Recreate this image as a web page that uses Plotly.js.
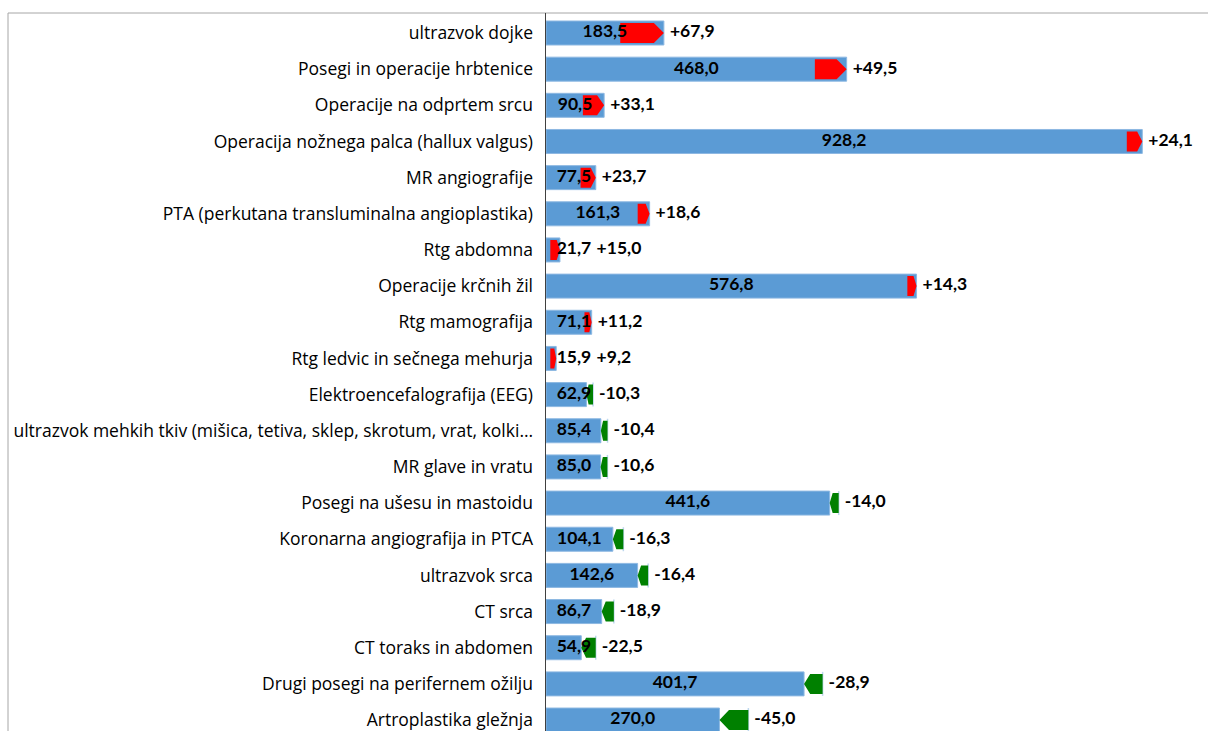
<!DOCTYPE html>
<html><head><meta charset="utf-8">
<script src="https://cdn.plot.ly/plotly-3.0.1.min.js"></script>
<style>body{margin:0;background:#fff}</style></head>
<body><div id="chart" style="width:1208px;height:731px"></div>
<script>
const categories = [
  "ultrazvok dojke",
  "Posegi in operacije hrbtenice",
  "Operacije na odprtem srcu",
  "Operacija nožnega palca (hallux valgus)",
  "MR angiografije",
  "PTA (perkutana transluminalna angioplastika)",
  "Rtg abdomna",
  "Operacije krčnih žil",
  "Rtg mamografija",
  "Rtg ledvic in sečnega mehurja",
  "Elektroencefalografija (EEG)",
  "ultrazvok mehkih tkiv (mišica, tetiva, sklep, skrotum, vrat, kolki…",
  "MR glave in vratu",
  "Posegi na ušesu in mastoidu",
  "Koronarna angiografija in PTCA",
  "ultrazvok srca",
  "CT srca",
  "CT toraks in abdomen",
  "Drugi posegi na perifernem ožilju",
  "Artroplastika gležnja"
];
const values = [183.5, 468.0, 90.5, 928.2, 77.5, 161.3, 21.7, 576.8, 71.1, 15.9,
                62.9, 85.4, 85.0, 441.6, 104.1, 142.6, 86.7, 54.9, 401.7, 270.0];
const changes = [67.9, 49.5, 33.1, 24.1, 23.7, 18.6, 15.0, 14.3, 11.2, 9.2,
                 -10.3, -10.4, -10.6, -14.0, -16.3, -16.4, -18.9, -22.5, -28.9, -45.0];

// layout geometry (pixels)
const W = 1208, H = 731;
const M = {l: 546, r: 0, t: 13, b: 0};
const plotW = W - M.l - M.r, plotH = H - M.t - M.b;
const XMAX = 1030.5;
const k = plotW / XMAX;            // px per data unit
const rowPx = 36.16;
const firstRowOffset = 20;         // px from plot top to first row centre
const yTop = -firstRowOffset / rowPx;
const yBottom = yTop + plotH / rowPx;
const barW = 24 / rowPx;
const arrowHalf = 10 / rowPx;

const fmt = v => v.toFixed(1).replace('.', ',');
const fmtSigned = v => (v > 0 ? '+' : '-') + Math.abs(v).toFixed(1).replace('.', ',');
const idx = categories.map((_, i) => i);

function arrowTrace(sign, color) {
  const xs = [], ys = [];
  values.forEach((v, i) => {
    const c = changes[i];
    if (Math.sign(c) !== sign) return;
    const w = Math.abs(c);
    const tip = Math.min(0.33 * w, 10 / k);
    const y0 = i - arrowHalf, y1 = i + arrowHalf;
    if (c > 0) {
      const a = v - w, b = v;
      xs.push(a, b - tip, b, b - tip, a, a, null);
      ys.push(y0, y0, i, y1, y1, y0, null);
    } else {
      const a = v, b = v + w;
      xs.push(b, a + tip, a, a + tip, b, b, null);
      ys.push(y0, y0, i, y1, y1, y0, null);
    }
  });
  return {type: 'scatter', mode: 'lines', x: xs, y: ys, fill: 'toself',
          fillcolor: color, line: {width: 0, color: color}, hoverinfo: 'skip', showlegend: false};
}

const olX = [], olY = [];
values.forEach((v, i) => {
  const c = changes[i];
  if (c < 0) { const e = v - c; olX.push(e, e, null); olY.push(i - barW/2, i + barW/2, null); }
});

const valLabelX = values.map(v => Math.max(v / 2, 28 / k));
const valText = values.map(fmt);
const chgText = changes.map(fmtSigned);
const chgX = values.map((v, i) => {
  const c = changes[i];
  const end = c > 0 ? v : v - c;
  const valRight = valLabelX[i] + (valText[i].length * 8.8) / 2 / k;
  return Math.max(end + 6 / k, valRight + 5 / k);
});

const LBL = {family: 'Lato, "Open Sans", sans-serif', size: 17.5, color: '#000', weight: 'bold'};
const traces = [
  {type: 'bar', orientation: 'h', x: values, y: idx, width: barW,
   marker: {color: '#5B9BD5', line: {color: '#8DB8E2', width: 1}}, hoverinfo: 'skip', showlegend: false},
  {type: 'scatter', mode: 'lines', x: olX, y: olY, line: {color: '#BDD7EE', width: 1.5},
   hoverinfo: 'skip', showlegend: false},
  arrowTrace(1, '#FF0000'),
  arrowTrace(-1, '#008000'),
  {type: 'scatter', mode: 'text', x: valLabelX, y: idx, text: valText, textposition: 'middle center',
   textfont: LBL, hoverinfo: 'skip', showlegend: false, cliponaxis: false},
  {type: 'scatter', mode: 'text', x: chgX, y: idx, text: chgText, textposition: 'middle right',
   textfont: LBL, hoverinfo: 'skip', showlegend: false, cliponaxis: false}
];

const layout = {
  width: W, height: H, margin: M,
  paper_bgcolor: '#fff', plot_bgcolor: '#fff',
  barmode: 'overlay',
  font: {family: '"Open Sans", sans-serif', color: '#000'},
  xaxis: {range: [0, XMAX], showgrid: false, zeroline: false, showticklabels: false, ticks: ''},
  yaxis: {range: [yBottom, yTop], tickvals: idx, ticktext: categories, showgrid: false, zeroline: false,
          showline: true, linecolor: '#404040', linewidth: 1.5, ticks: '', ticklabelstandoff: 8,
          ticklabeloverflow: 'allow',
          tickfont: {size: 17.5, color: '#000', family: '"Open Sans", sans-serif'}},
  shapes: [{type: 'rect', xref: 'paper', yref: 'paper', x0: (8 - M.l) / plotW, x1: 1.2, y0: -0.2, y1: 1,
            line: {color: '#A6A6A6', width: 1}, fillcolor: 'rgba(0,0,0,0)', layer: 'below'}]
};

Plotly.newPlot('chart', traces, layout, {displayModeBar: false, staticPlot: true});
</script></body></html>
